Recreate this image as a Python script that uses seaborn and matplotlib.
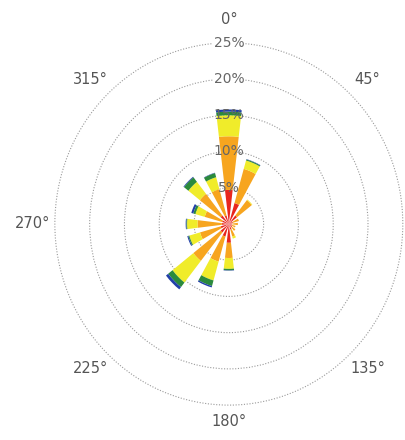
import numpy as np
import seaborn as sns
import matplotlib.pyplot as plt

# wind direction bins (degrees, clockwise from north)
directions = [0, 22.5, 45, 67.5, 90, 112.5, 135, 157.5,
              180, 202.5, 225, 247.5, 270, 292.5, 315, 337.5]

# frequency (%) per speed class, stacked outward
speed_1 = [4.7, 3.0, 1.5, 0.6, 0.5, 0.5, 0.6, 0.8, 2.6, 1.8, 1.5, 1.2, 1.0, 1.0, 1.5, 1.2]
speed_2 = [7.4, 4.9, 2.7, 0.9, 0.8, 0.5, 0.6, 1.0, 2.1, 3.6, 5.0, 3.1, 3.5, 2.6, 3.8, 3.8]
speed_3 = [2.9, 1.2, 0.1, 0.0, 0.0, 0.0, 0.0, 0.3, 1.5, 2.7, 3.8, 1.6, 1.5, 1.4, 2.1, 1.7]
speed_4 = [0.5, 0.15, 0.0, 0.0, 0.0, 0.0, 0.0, 0.0, 0.2, 0.8, 0.8, 0.15, 0.1, 0.3, 0.8, 0.6]
speed_5 = [0.3, 0.05, 0.0, 0.0, 0.0, 0.0, 0.0, 0.0, 0.05, 0.2, 0.4, 0.15, 0.1, 0.3, 0.1, 0.05]

ring_values = [5, 10, 15, 20, 25]
angle_labels = ["0°", "45°", "135°", "180°", "225°", "270°", "315°"]
angle_pos = [0, 45, 135, 180, 225, 270, 315]

sns.set_theme(style="white")
colors = sns.color_palette(["#e8261e", "#f7a51f", "#f0ec2a", "#2b8a3c", "#2140a8"])

fig = plt.figure(figsize=(4.05, 4.40), dpi=100)
ax = fig.add_axes([0.132, 0.076, 0.866, 0.830], projection="polar")
ax.set_aspect("auto")
ax.set_theta_zero_location("N")
ax.set_theta_direction(-1)

theta = np.deg2rad(directions)
bottom = np.zeros(len(directions))
for vals, c in zip([speed_1, speed_2, speed_3, speed_4, speed_5], colors):
    ax.bar(theta, vals, width=np.deg2rad(13.5), bottom=bottom, color=c,
           linewidth=0, zorder=2)
    bottom += np.array(vals)

ax.set_ylim(0, 25.2)
ax.set_rticks(ring_values)
ax.set_yticklabels([])
ax.set_xticks([])
ax.yaxis.grid(True, linestyle=(0, (1, 1.5)), color="#9a9a9a", linewidth=0.8)
ax.xaxis.grid(False)
ax.spines["polar"].set_visible(False)
ax.set_axisbelow(True)

# ring labels along north
for r in ring_values:
    kw = {}
    if r >= 20:
        kw["bbox"] = dict(facecolor="white", edgecolor="none", pad=0.5)
    ax.text(0, r, f"{r}%", ha="center", va="center", color="#666666",
            fontsize=10, zorder=5, **kw)

for a, lab in zip(angle_pos, angle_labels):
    rr = 27.3 if a == 180 else 28.2
    ax.text(np.deg2rad(a), rr, lab, ha="center", va="center",
            color="#555555", fontsize=10.5, clip_on=False)

fig.savefig("out.png", dpi=100)
